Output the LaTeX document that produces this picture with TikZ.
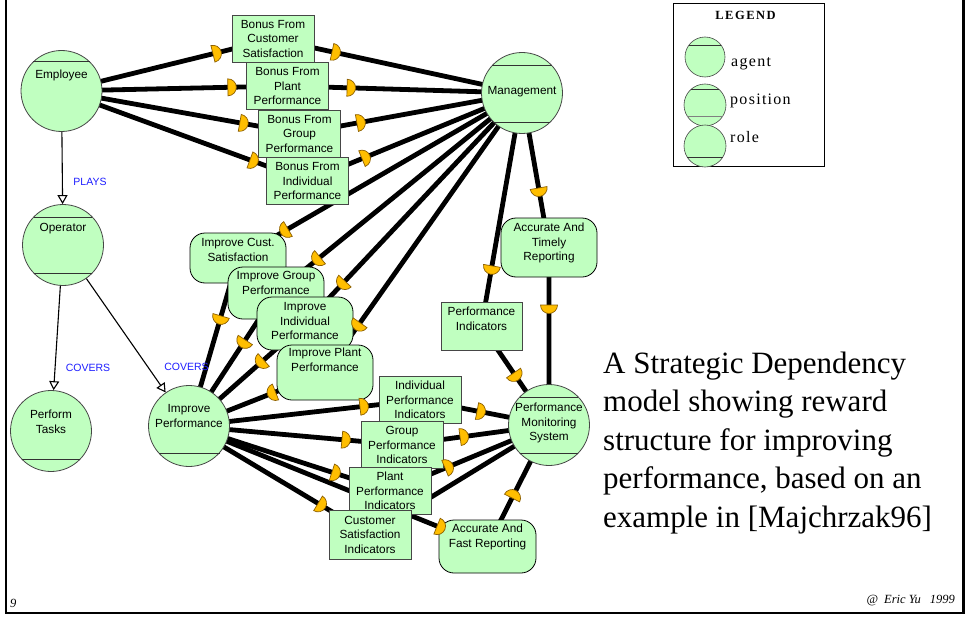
\documentclass[tikz,border=0pt]{standalone}
\usepackage{fontspec}
\setmainfont{Liberation Serif}
\newfontfamily\arialf{Liberation Sans}
\newfontfamily\legendfont[LetterSpace=8]{Liberation Serif}
\newfontfamily\legendbold[LetterSpace=12]{Liberation Serif}
\usetikzlibrary{arrows.meta,calc}
\pgfdeclarelayer{background}
\pgfdeclarelayer{foreground}
\pgfsetlayers{background,main,foreground}
\definecolor{nodefill}{RGB}{192,255,192}
\definecolor{nborder}{RGB}{70,70,70}
\definecolor{chordc}{RGB}{50,50,50}
\definecolor{dfill}{RGB}{255,190,0}
\definecolor{dedge}{RGB}{140,95,0}
\definecolor{linkblue}{RGB}{30,30,255}
\begin{document}
\begin{tikzpicture}[x=1pt,y=-1pt,
  actor/.style={circle, draw=nborder, fill=nodefill, minimum size=81pt, inner sep=0pt, line width=0.8pt},
  legc/.style={circle, draw=nborder, fill=nodefill, inner sep=0pt, line width=0.6pt},
  chord/.style={draw=chordc, line width=1pt},
  lbl/.style={font=\arialf\fontsize{11.8}{14.5}\selectfont, align=center, inner sep=0pt},
  goalbox/.style={rectangle, draw=nborder, fill=nodefill, minimum width=82pt, minimum height=47pt, inner sep=0pt, line width=0.8pt, align=center, font=\arialf\fontsize{11.8}{14.5}\selectfont},
  softg/.style={rectangle, rounded corners=15pt, draw=black, fill=nodefill, line width=0.8pt, inner sep=0pt, minimum width=96pt},
  dep/.style={line width=4.8pt, black},
  isa/.style={line width=1.1pt, black, -{Triangle[open,width=10pt,length=9pt]}},
  tag/.style={font=\arialf\fontsize{10.5}{12}\selectfont, text=linkblue, inner sep=0pt},
  bigtxt/.style={font=\fontsize{31}{38}\selectfont, inner sep=0pt, anchor=base west},
  dmark/.pic={\path[draw=dedge, fill=dfill, line width=0.7pt] (0pt,-8.5pt) arc[start angle=-90, end angle=90, radius=8.5pt] -- cycle;}
]
\begin{pgfonlayer}{background}
\fill[white] (0,0) rectangle (965,623);
\end{pgfonlayer}
\useasboundingbox (0,0) rectangle (965,623);

% frame
\draw[line width=2.6pt] (6,0) -- (6,613) -- (963.5,613) -- (963.5,0);

% actors
\node[actor] (emp) at (61.5,91) {};
\node[actor] (mgmt) at (522,93) {};
\node[actor] (op) at (63,245) {};
\node[actor] (pt) at (51,431) {};
\node[actor] (ip) at (189,426) {};
\node[actor] (pms) at (549,425) {};

\draw[chord] ($(emp.center)+(-28.3,-29)$) -- ($(emp.center)+(28.3,-29)$);
\draw[chord] ($(mgmt.center)+(-30.2,-27)$) -- ($(mgmt.center)+(30.2,-27)$);
\draw[chord] ($(mgmt.center)+(-28.3,29)$) -- ($(mgmt.center)+(28.3,29)$);
\draw[chord] ($(op.center)+(-29.3,-28)$) -- ($(op.center)+(29.3,-28)$);
\draw[chord] ($(op.center)+(-29.3,28)$) -- ($(op.center)+(29.3,28)$);
\draw[chord] ($(pt.center)+(-29.3,28)$) -- ($(pt.center)+(29.3,28)$);
\draw[chord] ($(ip.center)+(-30.5,27)$) -- ($(ip.center)+(30.5,27)$);
\draw[chord] ($(pms.center)+(-29.3,-28)$) -- ($(pms.center)+(29.3,-28)$);
\draw[chord] ($(pms.center)+(-29.3,28)$) -- ($(pms.center)+(29.3,28)$);

\node[lbl] (emp-t) at (61.5,75) {Employee};
\node[lbl] (mgmt-t) at (522,92) {Management};
\node[lbl] (op-t) at (63,229) {Operator};
\node[lbl] (pt-t) at (51,422) {Perform\\Tasks};
\node[lbl] (ip-t) at (189,416) {Improve\\Performance};
\node[lbl] (pms-t) at (549,423) {Performance\\Monitoring\\System};

% resources (boxes)
\node[goalbox] (bcs) at (273,39) {Bonus From\\Customer\\Satisfaction};
\node[goalbox] (bpp) at (287.5,86) {Bonus From\\Plant\\Performance};
\node[goalbox] (bgp) at (299.5,133.5) {Bonus From\\Group\\Performance};
\node[goalbox] (bip) at (307.5,181) {Bonus From\\Individual\\Performance};
\node[goalbox, minimum width=81pt, minimum height=48pt] (pi) at (481.5,326) {};
\node[lbl] (pi-t) at (481.5,319) {Performance\\Indicators};
\node[goalbox] (ipi) at (420,400) {Individual\\Performance\\Indicators};
\node[goalbox] (gpi) at (402,445) {Group\\Performance\\Indicators};
\node[goalbox] (ppi) at (390,491) {Plant\\Performance\\Indicators};
\node[goalbox, minimum height=49pt] (csi) at (370,534.5) {Customer\\Satisfaction\\Indicators};

% softgoals
\node[softg, minimum height=50pt] (ics) at (238,258) {};
\node[lbl] (ics-t) at (238,250) {Improve Cust.\\Satisfaction};
\node[softg, minimum height=52pt] (igp) at (276,293) {};
\node[lbl] (igp-t) at (276,283) {Improve Group\\Performance};
\node[softg, minimum height=53pt] (iip) at (305,323.5) {};
\node[lbl] (iip-t) at (305,321) {Improve\\Individual\\Performance};
\node[softg, minimum height=55pt] (ipp) at (325,372.5) {};
\node[lbl] (ipp-t) at (325,360) {Improve Plant\\Performance};
\node[softg, minimum height=59pt] (atr) at (549,247.5) {};
\node[lbl] (atr-t) at (549,243) {Accurate And\\Timely\\Reporting};
\node[softg, minimum width=97pt, minimum height=53pt] (afr) at (487.5,546.5) {};
\node[lbl] (afr-t) at (487.5,537) {Accurate And\\Fast Reporting};

% dependency lines
\begin{pgfonlayer}{background}
\draw[dep] (emp.center) -- (bcs.center) -- (mgmt.center);
\draw[dep] (emp.center) -- (bpp.center) -- (mgmt.center);
\draw[dep] (emp.center) -- (bgp.center) -- (mgmt.center);
\draw[dep] (emp.center) -- (bip.center) -- (mgmt.center);
\draw[dep] (mgmt.center) -- (ics.center) -- (ip.center);
\draw[dep] (mgmt.center) -- (igp.center) -- (ip.center);
\draw[dep] (mgmt.center) -- (iip.center) -- (ip.center);
\draw[dep] (mgmt.center) -- (ipp.center) -- (ip.center);
\draw[dep] (ip.center) -- (ipi.center) -- (pms.center);
\draw[dep] (ip.center) -- (gpi.center) -- (pms.center);
\draw[dep] (ip.center) -- (ppi.center) -- (pms.center);
\draw[dep] (ip.center) -- (csi.center) -- (pms.center);
\draw[dep] (ip.center) -- (afr.center) -- (pms.center);
\draw[dep] (mgmt.center) -- (pi.center) -- (pms.center);
\draw[dep] (mgmt.center) -- (atr.center) -- (pms.center);
\end{pgfonlayer}

% D markers
\begin{pgfonlayer}{foreground}
\path (emp.center) -- (bcs.center) pic[pos=0.716, sloped, allow upside down]{dmark};
\path (bcs.center) -- (mgmt.center) pic[pos=0.237, sloped, allow upside down]{dmark};
\path (emp.center) -- (bpp.center) pic[pos=0.736, sloped, allow upside down]{dmark};
\path (bpp.center) -- (mgmt.center) pic[pos=0.254, sloped, allow upside down]{dmark};
\path (emp.center) -- (bgp.center) pic[pos=0.749, sloped, allow upside down]{dmark};
\path (bgp.center) -- (mgmt.center) pic[pos=0.258, sloped, allow upside down]{dmark};
\path (emp.center) -- (bip.center) pic[pos=0.766, sloped, allow upside down]{dmark};
\path (bip.center) -- (mgmt.center) pic[pos=0.254, sloped, allow upside down]{dmark};
\path (mgmt.center) -- (ics.center) pic[pos=0.824, sloped, allow upside down]{dmark};
\path (ics.center) -- (ip.center) pic[pos=0.345, sloped, allow upside down]{dmark};
\path (mgmt.center) -- (igp.center) pic[pos=0.821, sloped, allow upside down]{dmark};
\path (igp.center) -- (ip.center) pic[pos=0.353, sloped, allow upside down]{dmark};
\path (mgmt.center) -- (iip.center) pic[pos=0.816, sloped, allow upside down]{dmark};
\path (iip.center) -- (ip.center) pic[pos=0.356, sloped, allow upside down]{dmark};
\path (mgmt.center) -- (ipp.center) pic[pos=0.822, sloped, allow upside down]{dmark};
\path (ipp.center) -- (ip.center) pic[pos=0.364, sloped, allow upside down]{dmark};
\path (ip.center) -- (ipi.center) pic[pos=0.74, sloped, allow upside down]{dmark};
\path (ipi.center) -- (pms.center) pic[pos=0.442, sloped, allow upside down]{dmark};
\path (ip.center) -- (gpi.center) pic[pos=0.718, sloped, allow upside down]{dmark};
\path (gpi.center) -- (pms.center) pic[pos=0.395, sloped, allow upside down]{dmark};
\path (ip.center) -- (ppi.center) pic[pos=0.711, sloped, allow upside down]{dmark};
\path (ppi.center) -- (pms.center) pic[pos=0.346, sloped, allow upside down]{dmark};
\path (ip.center) -- (csi.center) pic[pos=0.713, sloped, allow upside down]{dmark};
\path (ip.center) -- (afr.center) pic[pos=0.831, sloped, allow upside down]{dmark};
\path (afr.center) -- (pms.center) pic[pos=0.399, sloped, allow upside down]{dmark};
\path (mgmt.center) -- (pi.center) pic[pos=0.742, sloped, allow upside down]{dmark};
\path (pi.center) -- (pms.center) pic[pos=0.475, sloped, allow upside down]{dmark};
\path (mgmt.center) -- (atr.center) pic[pos=0.615, sloped, allow upside down]{dmark};
\path (atr.center) -- (pms.center) pic[pos=0.324, sloped, allow upside down]{dmark};
\end{pgfonlayer}

% plays / covers
\draw[isa] (emp) -- (op);
\draw[isa] (op) -- (pt);
\draw[isa] (op) -- (ip);
\node[tag] (plays) at (90,182) {PLAYS};
\node[tag] (cov1) at (88,368) {COVERS};
\node[tag] (cov2) at (186.5,367) {COVERS};

% legend
\node[draw=black, line width=1pt, minimum width=151pt, minimum height=162pt, inner sep=0pt] (legend) at (748.5,85) {};
\node[font=\legendbold\fontsize{12.5}{14}\selectfont\bfseries, inner sep=0pt, anchor=base] (legt) at (745.5,19.5) {LEGEND};
\node[legc, minimum size=40pt] (lga) at (705,57) {};
\node[legc, minimum size=42pt] (lgp) at (705,105) {};
\node[legc, minimum size=42pt] (lgr) at (705,146) {};
\draw[chord, line width=0.8pt] ($(lga.center)+(-16,-12)$) -- ($(lga.center)+(16,-12)$);
\draw[chord, line width=0.8pt] ($(lgp.center)+(-13.6,-16)$) -- ($(lgp.center)+(13.6,-16)$);
\draw[chord, line width=0.8pt, draw=gray] ($(lgp.center)+(-17.9,11)$) -- ($(lgp.center)+(17.9,11)$);
\draw[chord, line width=0.8pt] ($(lgr.center)+(-17.9,11)$) -- ($(lgr.center)+(17.9,11)$);
\node[font=\legendfont\fontsize{16}{18}\selectfont, inner sep=0pt, anchor=base west] (lgat) at (731,67) {agent};
\node[font=\legendfont\fontsize{16}{18}\selectfont, inner sep=0pt, anchor=base west] (lgpt) at (730,104) {position};
\node[font=\legendfont\fontsize{16}{18}\selectfont, inner sep=0pt, anchor=base west] (lgrt) at (730,142) {role};

% caption
\node[bigtxt] (c1) at (603,373) {A Strategic Dependency};
\node[bigtxt] (c2) at (603,411.5) {model showing reward};
\node[bigtxt] (c3) at (603,450) {structure for improving};
\node[bigtxt] (c4) at (603,488.5) {performance, based on an};
\node[bigtxt] (c5) at (603,527) {example in [Majchrzak96]};

% footer
\node[font=\fontsize{12.5}{14}\selectfont\itshape, inner sep=0pt, anchor=base west] (pg) at (10,607) {9};
\node[font=\fontsize{12.5}{14}\selectfont\itshape, inner sep=0pt, anchor=base east] (cr) at (955,603) {@\hspace{6pt}Eric Yu\hspace{9pt}1999};
\end{tikzpicture}
\end{document}
